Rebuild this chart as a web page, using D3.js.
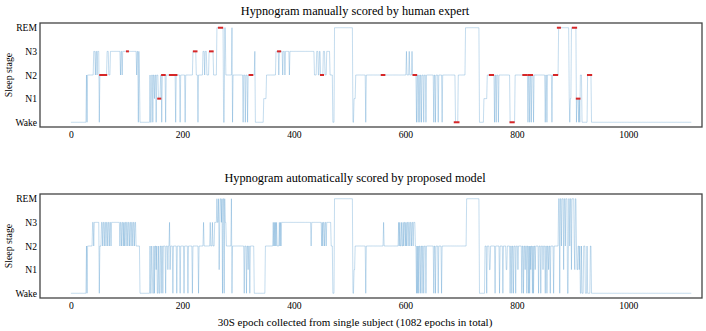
<!DOCTYPE html>
<html>
<head>
<meta charset="utf-8">
<script src="https://cdn.jsdelivr.net/npm/d3@7"></script>
<style>
  body { margin: 0; background: #fff; }
  svg { display: block; }
</style>
</head>
<body>
<div id="chart"></div>
<script>
// data
var stageNames = ["Wake", "N1", "N2", "N3", "REM"];
var xTicks = [0, 200, 400, 600, 800, 1000];
var lastEpoch = 1113;

// change points [epoch, stage] : stage holds until the next change
var humanChanges = [
  [0,0],[28,2],[29,0],[30,2],
  [41,3],[44,2],[45,3],[47,2],[48,3],[51,0],[52,2],
  [65,3],[68,2],[71,3],[89,2],[90,3],[92,2],[93,3],
  [118,2],[119,3],[121,0],[122,3],[123,2],[124,0],
  [142,2],[143,0],[145,2],[147,0],[148,2],[150,1],[151,2],[153,0],[154,2],[157,1],[161,2],
  [163,0],[164,2],[170,0],[171,2],[188,0],[189,2],[196,0],[197,2],[205,0],[206,2],
  [219,3],[225,2],[228,0],[229,2],[237,3],[240,2],[241,3],[244,2],[248,3],[256,2],
  [262,4],[274,0],[276,4],[278,2],[289,4],[290,0],[291,2],
  [309,0],[310,2],[313,0],[314,2],[317,0],[318,2],[330,3],[331,0],[346,1],[351,2],
  [368,3],[373,2],[374,3],[380,2],[381,3],[384,2],[385,3],[392,2],[393,3],
  [437,2],[441,3],[444,2],[446,3],[448,2],[453,3],[456,2],[459,3],[465,2],[470,0],
  [473,4],[506,0],[508,1],[511,2],[529,0],[530,2],
  [602,3],[603,2],[607,3],[608,2],[612,3],[613,2],
  [620,0],[621,2],[623,0],[624,2],[626,0],[627,2],[629,0],[630,2],[633,0],[634,2],[637,0],[638,2],
  [651,0],[652,2],[654,0],[655,2],[659,0],[660,2],[666,0],[667,2],
  [690,0],[695,2],[708,4],[733,0],[741,1],[747,2],
  [760,0],[761,2],[763,0],[764,2],[767,0],[768,2],[788,0],[797,2],
  [820,0],[821,2],[823,0],[824,2],[826,0],[827,2],[830,0],[831,2],
  [851,0],[852,2],[854,0],[855,2],[863,0],[864,2],
  [875,4],[894,1],[895,0],[896,1],[898,4],[907,0],[908,1],[911,0],[912,1],[913,0],
  [914,2],[917,0],[927,2],[934,0]
];

var modelChanges = [
  [0,0],[28,2],[29,0],[30,2],
  [39,3],[41,2],[42,3],[51,0],[52,2],[55,3],
  [57,2],[58,3],[60,2],[61,3],[63,2],[64,3],[66,2],[67,3],[69,2],[70,3],[72,2],[73,3],
  [88,2],[89,3],[91,2],[92,3],[94,2],[95,3],[96,2],[97,3],[99,2],[100,3],[102,2],[103,3],
  [105,2],[106,3],[108,2],[109,3],[111,2],[112,3],[114,2],[115,3],[117,2],[124,0],
  [142,2],[143,0],[145,2],[146,1],[147,0],[149,2],[150,0],[151,2],[153,1],[154,2],[155,0],
  [157,2],[158,0],[160,2],[162,0],[163,2],[165,0],[166,2],[170,0],[171,2],[174,1],[175,2],
  [177,3],[178,1],[179,2],[183,0],[184,2],[190,0],[191,2],[196,0],[197,2],[203,0],[204,2],
  [210,0],[211,2],[218,0],[219,2],[229,0],[230,2],
  [238,3],[239,2],[250,3],[251,2],[254,3],[255,2],
  [258,3],[262,4],[263,3],[265,4],[266,1],[267,3],[268,4],[270,3],[271,4],[272,0],[273,4],
  [275,0],[276,4],[277,3],[279,2],[288,4],[289,0],[290,2],
  [311,0],[312,2],[315,0],[316,2],[318,1],[319,2],[321,0],[322,2],[329,0],[349,2],
  [363,3],[364,2],[365,3],[366,2],[367,3],[368,2],[369,3],[370,2],
  [374,3],[375,2],[376,3],[377,2],[378,3],[431,2],[432,3],
  [450,2],[451,3],[452,2],[453,3],[455,2],[456,3],[458,2],[459,3],[467,2],[470,0],
  [473,4],[506,0],[508,1],[510,2],[529,0],[530,2],[561,3],[562,2],
  [588,3],[589,2],[590,3],[591,2],[593,3],[594,2],[596,3],[597,2],[598,3],[600,2],
  [601,3],[602,2],[603,3],[605,2],[606,3],[608,2],[609,3],[611,2],[612,3],[614,2],[615,3],[618,2],
  [620,0],[621,2],[622,0],[623,2],[624,0],[625,2],[627,0],[628,2],[630,0],[631,2],
  [633,0],[634,2],[637,0],[638,2],
  [651,0],[652,2],[654,0],[655,2],[659,0],[660,2],[665,0],[666,2],
  [710,4],[733,0],[743,2],
  [746,0],[747,2],[751,1],[753,2],[761,0],[762,2],[769,0],[770,2],[775,0],[776,2],
  [781,1],[783,2],[788,0],[789,2],[791,0],[792,2],[794,0],[795,2],[798,0],[799,2],
  [802,1],[803,2],[809,0],[810,2],[812,0],[813,2],[815,1],[816,2],[818,0],[819,2],
  [821,0],[822,2],[823,0],[824,2],[825,1],[826,2],[828,0],[829,2],[830,0],[831,2],
  [833,1],[834,2],[839,0],[840,2],[843,0],[844,2],[847,1],[848,2],[851,0],[852,2],
  [854,0],[855,2],[857,1],[858,2],[860,0],[861,2],[866,0],[867,2],
  [875,4],[877,0],[878,4],[880,2],[881,4],[884,1],[885,4],[887,2],[888,4],[891,0],
  [893,4],[895,2],[896,4],[898,1],[899,4],[903,2],[904,1],[905,4],[907,2],[908,1],
  [910,2],[912,1],[913,2],[914,0],[916,2],[917,0],[920,2],[923,0],[926,2],[927,0],
  [932,2],[934,0]
];

// red marks on the expert hypnogram [fromEpoch, toEpoch, stage]
var redMarks = [
  [53,63,2],[101,102,3],[157,160,1],[164,168,2],[178,189,2],[221,225,3],[250,254,3],
  [266,271,4],[321,325,2],[372,375,3],[449,452,2],[558,562,2],[615,619,2],[689,695,0],
  [752,757,2],[789,794,0],[812,817,2],[821,827,2],[867,872,2],[874,877,4],[901,906,4],
  [908,912,1],[928,933,2]
];

var titles = ["Hypnogram manually scored by human expert",
              "Hypnogram automatically scored by proposed model"];
var xLabel = "30S epoch collected from single subject (1082 epochs in total)";
var yLabel = "Sleep stage";

// expand change points to one value per epoch
function expand(changes) {
  var out = [];
  for (var i = 0; i < changes.length; i++) {
    var end = i + 1 < changes.length ? changes[i + 1][0] : lastEpoch + 1;
    for (var e = changes[i][0]; e < end; e++) out.push({e: e, s: changes[i][1]});
  }
  return out;
}

var serif = "Liberation Serif, Times New Roman, serif";
var width = 706, height = 331;
var svg = d3.select("#chart").append("svg")
  .attr("width", width).attr("height", height)
  .attr("font-family", serif);

var left = 40, right = 702;
var x = d3.scaleLinear().domain([-55.4, 1132.2]).range([left, right]);

var panels = [
  {top: 23, bottom: 127, data: expand(humanChanges), title: titles[0], titleY: 15, marks: true},
  {top: 194, bottom: 298, data: expand(modelChanges), title: titles[1], titleY: 182, marks: false}
];

panels.forEach(function(p) {
  var y = d3.scaleLinear().domain([-0.2, 4.2]).range([p.bottom, p.top]);
  var g = svg.append("g");

  var line = d3.line().x(d => x(d.e)).y(d => y(d.s));
  g.append("path")
    .datum(p.data)
    .attr("d", line)
    .attr("fill", "none")
    .attr("stroke", "#3a8ac6")
    .attr("stroke-width", 0.5)
    .attr("stroke-opacity", 0.6);

  if (p.marks) {
    g.selectAll(".mark").data(redMarks).join("rect")
      .attr("x", d => x(d[0]) - 1.2)
      .attr("width", d => x(d[1]) - x(d[0]) + 2.4)
      .attr("y", d => y(d[2]) - 1)
      .attr("height", 2)
      .attr("fill", "#d62728");
  }

  g.append("rect")
    .attr("x", left).attr("y", p.top)
    .attr("width", right - left).attr("height", p.bottom - p.top)
    .attr("fill", "none").attr("stroke", "#444").attr("stroke-width", 1.3);

  g.append("g")
    .attr("transform", `translate(0,${p.bottom})`)
    .call(d3.axisBottom(x).tickValues(xTicks).tickFormat(d3.format("d")).tickSize(0).tickPadding(4))
    .call(a => a.select(".domain").remove())
    .attr("font-family", serif)
    .selectAll("text").attr("font-size", 9.6).attr("fill", "#000");

  g.append("g")
    .attr("transform", `translate(${left},0)`)
    .call(d3.axisLeft(y).tickValues([0,1,2,3,4]).tickFormat(i => stageNames[i]).tickSize(0).tickPadding(3))
    .call(a => a.select(".domain").remove())
    .attr("font-family", serif)
    .selectAll("text").attr("font-size", 9.6).attr("fill", "#000");

  svg.append("text")
    .attr("x", 355).attr("y", p.titleY)
    .attr("text-anchor", "middle")
    .attr("font-size", 12.3)
    .text(p.title);

  svg.append("text")
    .attr("transform", `translate(12,${(p.top + p.bottom) / 2}) rotate(-90)`)
    .attr("text-anchor", "middle")
    .attr("font-size", 9.8)
    .text(yLabel);
});

svg.append("text")
  .attr("x", 355).attr("y", 326)
  .attr("text-anchor", "middle")
  .attr("font-size", 11)
  .text(xLabel);
</script>
</body>
</html>
